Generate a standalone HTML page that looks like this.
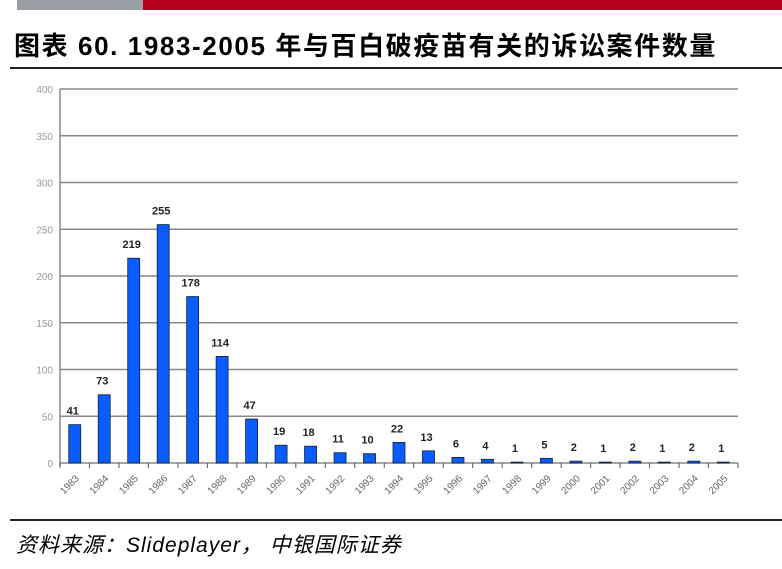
<!DOCTYPE html>
<html><head><meta charset="utf-8"><style>
body{margin:0;width:782px;height:569px;background:#fff;overflow:hidden;position:relative;font-family:"Liberation Sans","Noto Sans CJK SC",sans-serif}
.abs{position:absolute}
</style></head><body>
<div class="abs" style="left:17px;top:0;width:126px;height:10px;background:#9a9fa5"></div>
<div class="abs" style="left:143px;top:0;width:639px;height:10px;background:#b5001f"></div>
<div class="abs" style="left:14px;top:26px;font-size:26px;font-weight:bold;white-space:nowrap;letter-spacing:1.6px">图表 60. 1983-2005 年与百白破疫苗有关的诉讼案件数量</div>
<div class="abs" style="left:10px;top:67px;width:772px;height:2px;background:#222"></div>
<svg class="abs" style="left:0;top:0" width="782" height="569" id="chart"></svg>
<div class="abs" style="left:10px;top:519px;width:772px;height:2px;background:#222"></div>
<div class="abs" style="left:16px;top:529px;font-size:21px;font-style:italic;white-space:nowrap;letter-spacing:1px">资料来源：Slideplayer， 中银国际证券</div>
<script>
const categories=["1983","1984","1985","1986","1987","1988","1989","1990","1991","1992","1993","1994","1995","1996","1997","1998","1999","2000","2001","2002","2003","2004","2005"];
const values=[41,73,219,255,178,114,47,19,18,11,10,22,13,6,4,1,5,2,1,2,1,2,1];
const yTicks=[0,50,100,150,200,250,300,350,400];
const svg=document.getElementById('chart');
const NS='http://www.w3.org/2000/svg';
const x0=60,x1=738,yTop=89,yBot=463,yMax=400;
const cw=(x1-x0)/categories.length;
const y=v=>yBot-(v/yMax)*(yBot-yTop);
const xc=i=>x0+cw*(i+0.5);
function mk(t,a){const e=document.createElementNS(NS,t);for(const k in a)e.setAttribute(k,a[k]);svg.appendChild(e);return e;}
yTicks.forEach(t=>{
 const g=mk('line',{x1:x0,x2:x1,y1:y(t),y2:y(t),stroke:'#888','stroke-width':1.5});
 
 
 const tx=mk('text',{x:x0-7,y:y(t)+4,'text-anchor':'end','font-size':10,fill:'#999'});
 tx.textContent=t;
 
 
});
const ax=mk('line',{x1:x0,x2:x0,y1:yTop,y2:yBot+3,stroke:'#888','stroke-width':1.5});


for(let i=0;i<=categories.length;i++){
 const t=mk('line',{x1:x0+cw*i,x2:x0+cw*i,y1:yBot,y2:yBot+5,stroke:'#555','stroke-width':1});
 
 
}
categories.forEach((c,i)=>{
 const v=values[i];
 const b=mk('rect',{x:xc(i)-6,y:y(v),width:12,height:yBot-y(v),fill:'#0a5cff',stroke:'#123','stroke-width':0.8});
 
 
 const l=mk('text',{x:xc(i)-2,y:y(v)-10,'text-anchor':'middle','font-size':11,'font-weight':'bold',fill:'#222'});
 l.textContent=v;
 
 
 const cx=xc(i)+5,cy=yBot+16;
 const xl=mk('text',{x:cx,y:cy,'text-anchor':'end','font-size':10,fill:'#666',transform:`rotate(-45 ${cx} ${cy})`});
 xl.textContent=c;
 
 
});
</script>
</body></html>
